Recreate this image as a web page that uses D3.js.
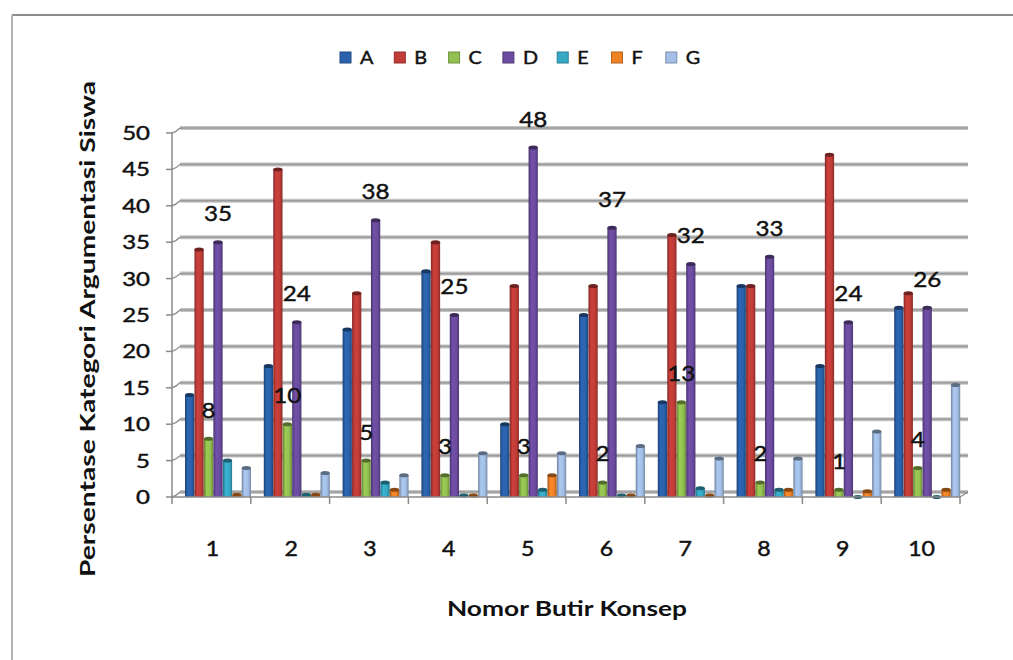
<!DOCTYPE html>
<html>
<head>
<meta charset="utf-8">
<script src="https://cdn.jsdelivr.net/npm/d3@7/dist/d3.min.js"></script>
<style>
  html, body { margin: 0; padding: 0; background: #fff; }
  svg { display: block; }
  text { font-family: Lato, "Open Sans", sans-serif; fill: #111; }
  .heavy { stroke: #111; stroke-width: 0.45px; }
</style>
</head>
<body>
<svg id="chart" width="1013" height="660"></svg>
<script>
// Item numbers (x categories)
const categories = ["1", "2", "3", "4", "5", "6", "7", "8", "9", "10"];
// Argumentation categories (series)
const seriesNames = ["A", "B", "C", "D", "E", "F", "G"];
// Percentages per series, one value per item
const valuesA = [14, 18, 23, 31, 10, 25, 13, 29, 18, 26];
const valuesB = [34, 45, 28, 35, 29, 29, 36, 29, 47, 28];
const valuesC = [8, 10, 5, 3, 3, 2, 13, 2, 1, 4];
const valuesD = [35, 24, 38, 25, 48, 37, 32, 33, 24, 26];
const valuesE = [5, 0.3, 2, 0.2, 1, 0.2, 1.2, 1, 0, 0];
const valuesF = [0.3, 0.3, 1, 0.2, 3, 0.2, 0.2, 1, 0.8, 1];
const valuesG = [4, 3.3, 3, 6, 6, 7, 5.3, 5.3, 9, 15.4];
// Y-axis ticks
const yTicks = [0, 5, 10, 15, 20, 25, 30, 35, 40, 45, 50];
// Series that carry data labels
const labelledSeries = ["C", "D"];

const seriesValues = [valuesA, valuesB, valuesC, valuesD, valuesE, valuesF, valuesG];
const colors = ["#2a62ac", "#c23d38", "#93c150", "#6c4ca0", "#35aac6", "#f08226", "#a3bfe6"];

const svg = d3.select("#chart");

// Outer frame
svg.append("line").attr("x1", 12).attr("x2", 1013).attr("y1", 15).attr("y2", 15)
  .attr("stroke", "#8c8c8c").attr("stroke-width", 2);
svg.append("line").attr("x1", 12).attr("x2", 12).attr("y1", 15).attr("y2", 660)
  .attr("stroke", "#b4b4b4").attr("stroke-width", 2);

// Scales
const x = d3.scaleBand().domain(categories).range([172, 960]).padding(0);
const xs = d3.scaleBand().domain(seriesNames).range([13, 79]).paddingInner(0.02);
const y = d3.scaleLinear().domain([0, 50]).range([497, 133]);

// 3D wall offset
const dx = 8, dy = -5;

// Back-wall gridlines
const grid = svg.append("g");
grid.selectAll("line.g").data(yTicks).join("line")
  .attr("x1", 172 + dx).attr("x2", 960 + dx)
  .attr("y1", d => y(d) + dy).attr("y2", d => y(d) + dy)
  .attr("stroke", "#c4c4c4").attr("stroke-width", 4);
grid.selectAll("line.g2").data(yTicks).join("line")
  .attr("x1", 172 + dx).attr("x2", 960 + dx)
  .attr("y1", d => y(d) + dy).attr("y2", d => y(d) + dy)
  .attr("stroke", "#9a9a9a").attr("stroke-width", 1.6);
// wall/floor joins on the value axis
grid.selectAll("path.j").data(yTicks).join("path")
  .attr("d", d => `M172,${y(d)} Q176,${y(d) + dy * 0.2} ${172 + dx},${y(d) + dy}`)
  .attr("fill", "none").attr("stroke", "#8a8a8a").attr("stroke-width", 1.3);
grid.append("path")
  .attr("d", `M960,${y(0)} L${960 + dx},${y(0) + dy}`)
  .attr("stroke", "#8a8a8a").attr("stroke-width", 1.3);

// Gradients for rounded bar shading
const defs = svg.append("defs");
seriesNames.forEach((s, i) => {
  const c = d3.color(colors[i]);
  const g = defs.append("linearGradient").attr("id", "grad" + s)
    .attr("x1", "0").attr("x2", "1").attr("y1", "0").attr("y2", "0");
  g.append("stop").attr("offset", "0%").attr("stop-color", c.darker(1.1));
  g.append("stop").attr("offset", "30%").attr("stop-color", c.brighter(0.15));
  g.append("stop").attr("offset", "70%").attr("stop-color", c);
  g.append("stop").attr("offset", "100%").attr("stop-color", c.darker(0.9));
});

// Bars
const barsG = svg.append("g");
seriesNames.forEach((s, si) => {
  const vals = seriesValues[si];
  const w = xs.bandwidth();
  const gs = barsG.append("g");
  gs.selectAll("rect").data(vals).join("rect")
    .attr("x", (d, i) => x(categories[i]) + xs(s))
    .attr("y", d => y(d))
    .attr("width", w)
    .attr("height", d => y(0) - y(d))
    .attr("fill", `url(#grad${s})`);
  gs.selectAll("ellipse").data(vals).join("ellipse")
    .attr("cx", (d, i) => x(categories[i]) + xs(s) + w / 2)
    .attr("cy", d => y(d))
    .attr("rx", w / 2)
    .attr("ry", 2)
    .attr("fill", d3.color(colors[si]).darker(1.6));
});

// Axes lines
svg.append("line").attr("x1", 172).attr("x2", 172).attr("y1", y(50)).attr("y2", y(0))
  .attr("stroke", "#8a8a8a").attr("stroke-width", 1.5);
svg.append("line").attr("x1", 172).attr("x2", 960).attr("y1", y(0)).attr("y2", y(0))
  .attr("stroke", "#8a8a8a").attr("stroke-width", 1.5);

// Value axis ticks and labels
const yAxis = svg.append("g");
yAxis.selectAll("line").data(yTicks).join("line")
  .attr("x1", 166).attr("x2", 172).attr("y1", d => y(d)).attr("y2", d => y(d))
  .attr("stroke", "#8a8a8a").attr("stroke-width", 1.5);
yAxis.selectAll("text").data(yTicks).join("text")
  .attr("class", "heavy")
  .attr("transform", d => `translate(150,${y(d) + 7}) scale(1.2,1)`)
  .attr("text-anchor", "end")
  .attr("font-size", 20)
  .text(d => d);

// Category axis ticks and labels
const bounds = categories.map(c => x(c)).concat([x(categories[categories.length - 1]) + x.bandwidth()]);
svg.append("g").selectAll("line").data(bounds).join("line")
  .attr("x1", d => d).attr("x2", d => d).attr("y1", y(0)).attr("y2", y(0) + 7)
  .attr("stroke", "#8a8a8a").attr("stroke-width", 1.5);
svg.append("g").selectAll("text").data(categories).join("text")
  .attr("class", "heavy")
  .attr("transform", d => `translate(${x(d) + x.bandwidth() / 2 + 1},${556}) scale(1.1,1)`)
  .attr("text-anchor", "middle")
  .attr("font-size", 21)
  .text(d => d);

// Data labels for C and D
const labelsG = svg.append("g");
labelledSeries.forEach(s => {
  const si = seriesNames.indexOf(s);
  const vals = seriesValues[si];
  labelsG.selectAll("text.l" + s).data(vals).join("text")
    .attr("class", "heavy")
    .attr("transform", (d, i) => `translate(${x(categories[i]) + xs(s) + xs.bandwidth() / 2},${y(d) - 21}) scale(1.1,1)`)
    .attr("text-anchor", "middle")
    .attr("font-size", 22)
    .text(d => d);
});

// Legend
const legend = svg.append("g");
seriesNames.forEach((s, i) => {
  const lx = 340 + i * 54.3;
  legend.append("rect").attr("x", lx).attr("y", 52).attr("width", 11).attr("height", 11)
    .attr("fill", colors[i]).attr("stroke", d3.color(colors[i]).darker(0.8)).attr("stroke-width", 1);
  legend.append("text")
    .attr("class", "heavy")
    .attr("transform", `translate(${lx + 20},${64}) scale(1.1,1)`)
    .attr("font-size", 18)
    .text(s);
});

// Axis titles
svg.append("text")
  .attr("transform", "translate(95,329) rotate(-90)")
  .attr("text-anchor", "middle")
  .attr("font-size", 20)
  .attr("font-weight", "bold")
  .attr("textLength", 496)
  .attr("lengthAdjust", "spacingAndGlyphs")
  .text("Persentase Kategori Argumentasi Siswa");
svg.append("text")
  .attr("x", 567).attr("y", 616)
  .attr("text-anchor", "middle")
  .attr("font-size", 20)
  .attr("font-weight", "bold")
  .attr("textLength", 240)
  .attr("lengthAdjust", "spacingAndGlyphs")
  .text("Nomor Butir Konsep");
</script>
</body>
</html>
